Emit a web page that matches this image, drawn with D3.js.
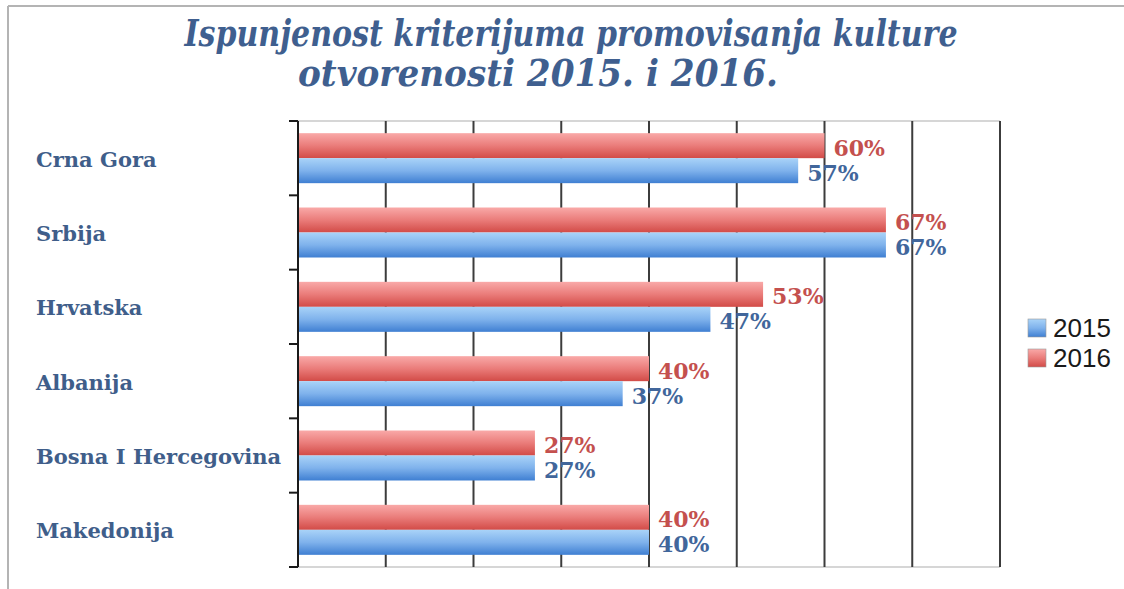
<!DOCTYPE html>
<html>
<head>
<meta charset="utf-8">
<script src="https://cdn.jsdelivr.net/npm/d3@7"></script>
<style>
  body { margin: 0; background: #fff; }
  svg { display: block; }
</style>
</head>
<body>
<svg id="chart" width="1124" height="589"></svg>
<script>
// Data
var categories = ["Crna Gora", "Srbija", "Hrvatska", "Albanija", "Bosna I Hercegovina", "Makedonija"];
var values2015 = [0.57, 0.67, 0.47, 0.37, 0.27, 0.40];
var values2016 = [0.60, 0.67, 0.53, 0.40, 0.27, 0.40];
var seriesNames = ["2015", "2016"];
var xTicks = [0, 0.1, 0.2, 0.3, 0.4, 0.5, 0.6, 0.7, 0.8];
var titleLines = ["Ispunjenost kriterijuma promovisanja kulture", "otvorenosti 2015. i 2016."];

var svg = d3.select("#chart");

// Dimensions
var plot = { left: 298, right: 1000, top: 121, bottom: 567 };

var x = d3.scaleLinear().domain([0, 0.8]).range([plot.left, plot.right]);
var y = d3.scaleBand().domain(categories).range([plot.top, plot.bottom]);
var barH = 25;

var blueText = "#41669b", redText = "#c4504e", labelColor = "#3f5e8a";

// Gradients
var defs = svg.append("defs");
function grad(id, top, mid, bottom) {
    var g = defs.append("linearGradient").attr("id", id)
        .attr("x1", 0).attr("y1", 0).attr("x2", 0).attr("y2", 1);
    g.append("stop").attr("offset", "0%").attr("stop-color", top);
    g.append("stop").attr("offset", "50%").attr("stop-color", mid);
    g.append("stop").attr("offset", "100%").attr("stop-color", bottom);
}
grad("gBlue", "#a9d3f8", "#7fb2ec", "#3f7fd2");
grad("gRed", "#f9a9a8", "#ea7c7a", "#d24b47");

// Outer frame
svg.append("line").attr("x1", 8).attr("x2", 1124).attr("y1", 6).attr("y2", 6)
    .attr("stroke", "#b4b4b4").attr("stroke-width", 2);
svg.append("line").attr("x1", 8).attr("x2", 8).attr("y1", 6).attr("y2", 589)
    .attr("stroke", "#b4b4b4").attr("stroke-width", 2);

// Title
var titleStyle = function(t) {
    t.attr("text-anchor", "middle")
        .attr("lengthAdjust", "spacingAndGlyphs")
        .style("font-family", "'DejaVu Serif Condensed', 'DejaVu Serif', serif")
        .style("font-weight", "bold").style("font-style", "italic")
        .style("font-size", "37px").attr("fill", "#3f5f8f");
};
svg.append("text").attr("x", 571).attr("y", 46)
    .attr("textLength", 773).call(titleStyle)
    .text(titleLines[0]);
svg.append("text").attr("x", 538).attr("y", 86)
    .attr("textLength", 480).call(titleStyle)
    .text(titleLines[1]);

// Plot border top/bottom
svg.append("line").attr("x1", plot.left).attr("x2", plot.right).attr("y1", plot.top).attr("y2", plot.top)
    .attr("stroke", "#c8c8c8").attr("stroke-width", 1.5);
svg.append("line").attr("x1", plot.left).attr("x2", plot.right).attr("y1", plot.bottom).attr("y2", plot.bottom)
    .attr("stroke", "#c8c8c8").attr("stroke-width", 1.5);

// Gridlines
svg.append("g").selectAll("line")
    .data(xTicks.slice(1))
    .enter().append("line")
    .attr("x1", function(d) { return x(d); })
    .attr("x2", function(d) { return x(d); })
    .attr("y1", plot.top).attr("y2", plot.bottom)
    .attr("stroke", "#3c3c3c").attr("stroke-width", 2);

// Bars
var groups = svg.append("g").selectAll("g")
    .data(categories)
    .enter().append("g")
    .attr("transform", function(d) { return "translate(0," + (y(d) + y.bandwidth() / 2) + ")"; });

groups.append("rect")
    .attr("x", x(0))
    .attr("y", -barH)
    .attr("width", function(d, i) { return x(values2016[i]) - x(0); })
    .attr("height", barH)
    .attr("fill", "url(#gRed)");

groups.append("rect")
    .attr("x", x(0))
    .attr("y", 0)
    .attr("width", function(d, i) { return x(values2015[i]) - x(0); })
    .attr("height", barH)
    .attr("fill", "url(#gBlue)");

// Value labels
var fmt = d3.format(".0%");
groups.append("text")
    .attr("x", function(d, i) { return x(values2016[i]) + 9; })
    .attr("y", -barH / 2 + 2)
    .attr("dominant-baseline", "central")
    .style("font-family", "'DejaVu Serif', serif").style("font-weight", "bold")
    .style("font-size", "22px").attr("fill", redText)
    .text(function(d, i) { return fmt(values2016[i]); });

groups.append("text")
    .attr("x", function(d, i) { return x(values2015[i]) + 9; })
    .attr("y", barH / 2 + 2)
    .attr("dominant-baseline", "central")
    .style("font-family", "'DejaVu Serif', serif").style("font-weight", "bold")
    .style("font-size", "22px").attr("fill", blueText)
    .text(function(d, i) { return fmt(values2015[i]); });

// Left axis with ticks at band edges
var axisG = svg.append("g");
axisG.append("line").attr("x1", plot.left).attr("x2", plot.left)
    .attr("y1", plot.top).attr("y2", plot.bottom)
    .attr("stroke", "#1a1a1a").attr("stroke-width", 2);
var edges = categories.map(function(c) { return y(c); }).concat([plot.bottom]);
axisG.selectAll("line.tick")
    .data(edges)
    .enter().append("line")
    .attr("class", "tick")
    .attr("x1", plot.left - 9).attr("x2", plot.left)
    .attr("y1", function(d) { return d; }).attr("y2", function(d) { return d; })
    .attr("stroke", "#1a1a1a").attr("stroke-width", 2);

// Category labels
svg.append("g").selectAll("text")
    .data(categories)
    .enter().append("text")
    .attr("x", 36)
    .attr("y", function(d) { return y(d) + y.bandwidth() / 2 + 1; })
    .attr("dominant-baseline", "central")
    .style("font-family", "'DejaVu Serif', serif").style("font-weight", "bold")
    .style("font-size", "21px").attr("fill", labelColor)
    .text(function(d) { return d; });

// Legend
var legend = svg.append("g").attr("transform", "translate(1028,319)");
var legendFill = ["url(#gBlue)", "url(#gRed)"];
var li = legend.selectAll("g")
    .data(seriesNames)
    .enter().append("g")
    .attr("transform", function(d, i) { return "translate(0," + (i * 30) + ")"; });
li.append("rect").attr("width", 18).attr("height", 18)
    .attr("fill", function(d, i) { return legendFill[i]; })
    .attr("stroke", "#9a9a9a").attr("stroke-width", 0.6);
li.append("text").attr("x", 25).attr("y", 18)
    .style("font-family", "'Liberation Sans', Arial, sans-serif")
    .style("font-size", "26px").attr("fill", "#1a1a1a")
    .text(function(d) { return d; });
</script>
</body>
</html>
